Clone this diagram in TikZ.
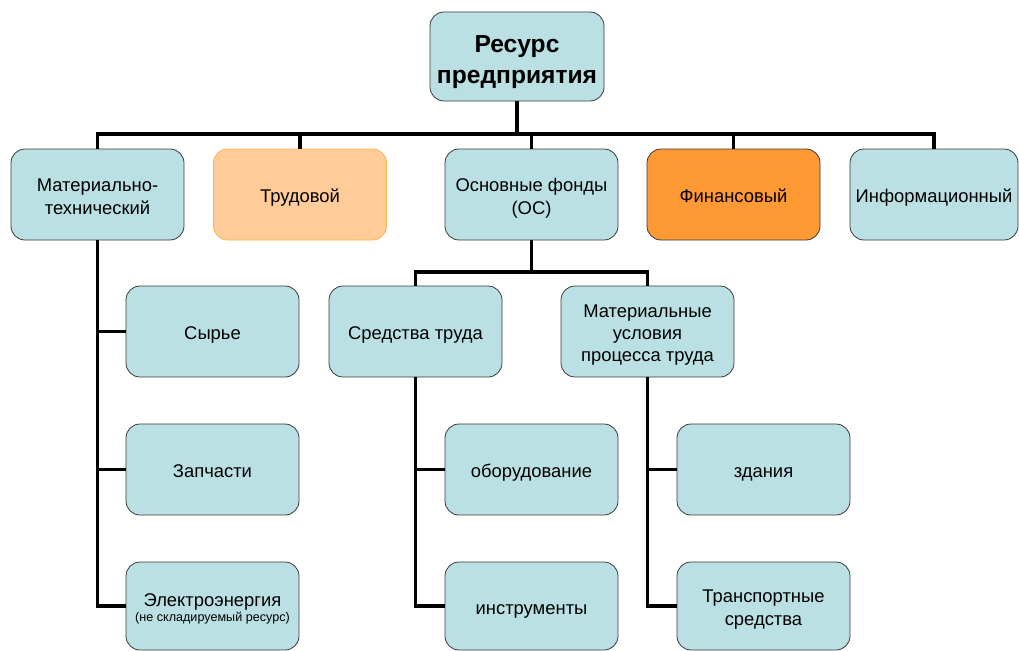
\documentclass[tikz,border=0pt]{standalone}
\usepackage{fontspec}
\setmainfont{Liberation Sans}
\definecolor{lblue}{HTML}{BBE0E3}
\definecolor{bord}{HTML}{3A3A3A}
\definecolor{tfill}{HTML}{FFCC99}
\definecolor{tbord}{HTML}{F9B24E}
\definecolor{ffill}{HTML}{FF9933}
\newcommand\mystrut{\rule{0pt}{20pt}}
\begin{document}
\begin{tikzpicture}[x=1pt,y=-1pt,
  box/.style={draw=bord, line width=0.8pt, fill=lblue, rounded corners=14pt,
    minimum width=173pt, minimum height=91pt, align=center, inner sep=2pt,
    font=\fontsize{18.4}{23}\selectfont,
    execute at begin node={\rule{0pt}{20pt}},
    execute at end node={\rule[-4pt]{0pt}{4pt}}},
  conn/.style={line width=3.2pt, black}]
\useasboundingbox (0,0) rectangle (1019,650);
% top
\node[box, minimum width=174pt, minimum height=89pt, font=\fontsize{24.6}{30}\selectfont\bfseries,
  execute at begin node={}, execute at end node={\rule[-5pt]{0pt}{5pt}}] (top) at (517,56.5) {\rule{0pt}{28pt}Ресурс\\[1pt]предприятия};
% level 1
\node[box] (mt) at (97.5,194.5) {\mystrut Материально-\\технический};
\node[box, fill=tfill, draw=tbord] (tr) at (300,194.5) {Трудовой};
\node[box] (os) at (531.5,194.5) {\mystrut Основные фонды\\(ОС)};
\node[box, fill=ffill] (fin) at (733.5,194.5) {Финансовый};
\node[box, minimum width=168pt] (info) at (934,194.5) {Информационный};
% material-technical children
\node[box] (syr) at (212.5,331.5) {Сырье};
\node[box] (zap) at (212.5,469.5) {Запчасти};
\node[box, minimum height=88pt] (el) at (212.5,606) {\mystrut Электроэнергия\\[-8pt]{\fontsize{12.6}{14}\selectfont(не складируемый ресурс)}};
% OS children
\node[box] (st) at (415.5,331.5) {Средства труда};
\node[box, font=\fontsize{18.4}{22}\selectfont] (mu) at (647.5,331.5) {\mystrut Материальные\\условия\\процесса труда};
\node[box] (ob) at (531.5,469.5) {оборудование};
\node[box, minimum height=88pt] (ins) at (531.5,606) {инструменты};
\node[box] (zd) at (763.5,469.5) {здания};
\node[box, minimum height=88pt] (tsr) at (763.5,606) {\mystrut Транспортные\\средства};
% coordinates for buses
\coordinate (bus) at (0,134);
\coordinate (bus2) at (0,272);
% main bus
\draw[conn] (top.south) -- (top.south |- bus);
\draw[conn] (mt.north) -- (mt.north |- bus) -- (info.north |- bus) -- (info.north);
\draw[conn] (tr.north) -- (tr.north |- bus);
\draw[conn] (os.north) -- (os.north |- bus);
\draw[conn] (fin.north) -- (fin.north |- bus);
% material-technical branch
\draw[conn] (mt.south) -- (mt.south |- el.west) -- (el.west);
\draw[conn] (mt.south |- syr.west) -- (syr.west);
\draw[conn] (mt.south |- zap.west) -- (zap.west);
% OS sub bus
\draw[conn] (os.south) -- (os.south |- bus2);
\draw[conn] (st.north) -- (st.north |- bus2) -- (mu.north |- bus2) -- (mu.north);
% Sredstva truda
\draw[conn] (st.south) -- (st.south |- ins.west) -- (ins.west);
\draw[conn] (st.south |- ob.west) -- (ob.west);
% Mat usloviya
\draw[conn] (mu.south) -- (mu.south |- tsr.west) -- (tsr.west);
\draw[conn] (mu.south |- zd.west) -- (zd.west);
\end{tikzpicture}
\end{document}
